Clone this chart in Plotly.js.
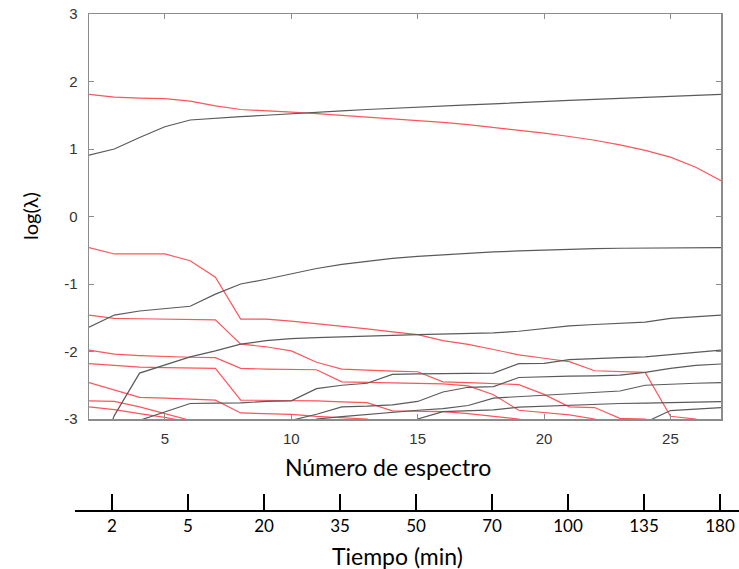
<!DOCTYPE html>
<html>
<head>
<meta charset="utf-8">
<script src="https://cdn.plot.ly/plotly-3.0.1.min.js"></script>
<style>html,body{margin:0;padding:0;background:#fff;}#chart{width:739px;height:569px;}</style>
</head>
<body>
<div id="chart"></div>
<script>
// Spectrum number (x)
const spectrum = [2,3,4,5,6,7,8,9,10,11,12,13,14,15,16,17,18,19,20,21,22,23,24,25,26,27];

// Black series (log lambda)
const blackA = [0.91,1.00,1.17,1.33,1.43,1.46,1.48,1.50,1.525,1.545,1.565,1.585,1.605,1.62,1.64,1.655,1.67,1.69,1.705,1.72,1.735,1.75,1.765,1.78,1.795,1.81];
const blackB = [-1.64,-1.46,-1.40,-1.36,-1.33,-1.15,-1.00,-0.93,-0.85,-0.77,-0.71,-0.66,-0.62,-0.59,-0.565,-0.545,-0.525,-0.51,-0.495,-0.485,-0.475,-0.47,-0.465,-0.46,-0.46,-0.46];
const blackC = [-3.9,-2.95,-2.32,-2.20,-2.08,-1.99,-1.89,-1.84,-1.81,-1.795,-1.78,-1.77,-1.76,-1.75,-1.745,-1.74,-1.725,-1.70,-1.665,-1.62,-1.60,-1.585,-1.565,-1.51,-1.485,-1.46];
const blackD = [null,null,-3.02,-2.89,-2.77,-2.765,-2.76,-2.74,-2.73,-2.55,-2.50,-2.47,-2.34,-2.33,-2.33,-2.33,-2.32,-2.18,-2.175,-2.12,-2.10,-2.09,-2.08,-2.05,-2.015,-1.98];
const blackE = [null,null,null,null,null,null,null,-3.3,-3.02,-2.93,-2.82,-2.81,-2.79,-2.74,-2.60,-2.53,-2.52,-2.385,-2.37,-2.365,-2.36,-2.35,-2.31,-2.25,-2.205,-2.185];
const blackF = [null,null,null,null,null,null,null,null,-3.2,-3.0,-2.965,-2.93,-2.90,-2.87,-2.845,-2.80,-2.69,-2.67,-2.655,-2.635,-2.61,-2.585,-2.50,-2.48,-2.47,-2.46];
const blackG = [null,null,null,null,null,null,null,null,null,null,null,null,-3.3,-3.0,-2.89,-2.875,-2.865,-2.825,-2.81,-2.79,-2.78,-2.77,-2.765,-2.757,-2.75,-2.743];
const blackH = [null,null,null,null,null,null,null,null,null,null,null,null,null,null,null,null,null,null,null,null,null,-3.5,-3.05,-2.875,-2.855,-2.83];

// Red series (log lambda)
const redA = [1.81,1.77,1.755,1.745,1.71,1.64,1.585,1.56,1.545,1.525,1.50,1.48,1.455,1.425,1.395,1.36,1.32,1.28,1.235,1.185,1.13,1.06,0.98,0.88,0.73,0.53];
const redB = [-0.46,-0.555,-0.555,-0.555,-0.655,-0.90,-1.52,-1.52,-1.55,-1.585,-1.62,-1.665,-1.71,-1.75,-1.84,-1.895,-1.97,-2.05,-2.10,-2.15,-2.285,-2.30,-2.31,-2.96,-3.0,-3.2];
const redC = [-1.46,-1.51,-1.515,-1.52,-1.525,-1.53,-1.89,-1.93,-1.99,-2.16,-2.26,-2.28,-2.29,-2.30,-2.45,-2.46,-2.47,-2.49,-2.635,-2.82,-2.83,-2.99,-3.0,-3.2,null,null];
const redD = [-1.98,-2.04,-2.06,-2.075,-2.085,-2.09,-2.25,-2.26,-2.265,-2.27,-2.45,-2.455,-2.46,-2.47,-2.48,-2.51,-2.64,-2.87,-2.90,-2.94,-3.0,-3.2,null,null,null,null];
const redE = [-2.18,-2.21,-2.23,-2.24,-2.245,-2.25,-2.72,-2.72,-2.72,-2.73,-2.745,-2.757,-2.88,-2.885,-2.89,-2.92,-2.96,-3.0,-3.2,null,null,null,null,null,null,null];
const redF = [-2.46,-2.57,-2.68,-2.69,-2.70,-2.72,-2.91,-2.92,-2.93,-2.96,-2.98,-3.0,-3.2,null,null,null,null,null,null,null,null,null,null,null,null,null];
const redG = [-2.73,-2.74,-2.82,-2.92,-3.02,-3.2,null,null,null,null,null,null,null,null,null,null,null,null,null,null,null,null,null,null,null,null];
const redH = [-2.82,-2.86,-2.92,-2.975,-3.05,-3.2,null,null,null,null,null,null,null,null,null,null,null,null,null,null,null,null,null,null,null,null];

// Tick labels
const xTickVals = [5,10,15,20,25];
const xTickText = ['5','10','15','20','25'];
const yTickVals = [-3,-2,-1,0,1,2,3];
const yTickText = ['-3','-2','-1','0','1','2','3'];
const timeTickVals = [3,6,9,12,15,18,21,24,27];
const timeTickText = ['2','5','20','35','50','70','100','135','180'];

const redSeries = [redA, redB, redC, redD, redE, redF, redG, redH];
const blackSeries = [blackA, blackB, blackC, blackD, blackE, blackF, blackG, blackH];

const traces = [];
redSeries.forEach(s => traces.push({x: spectrum, y: s, type:'scatter', mode:'lines', connectgaps:false,
  line:{color:'rgb(255,85,90)', width:1.2}, hoverinfo:'skip'}));
blackSeries.forEach(s => traces.push({x: spectrum, y: s, type:'scatter', mode:'lines', connectgaps:false,
  line:{color:'rgb(90,90,90)', width:1.2}, hoverinfo:'skip'}));
// empty trace so the time axis exists
traces.push({x: [], y: [], xaxis:'x2', yaxis:'y2', type:'scatter', mode:'lines', hoverinfo:'skip'});

const axisGray = '#8c8c8c';
const layout = {
  width: 739, height: 569,
  margin: {l:75, r:0, t:14, b:58, pad:0},
  paper_bgcolor:'white', plot_bgcolor:'white',
  showlegend:false,
  xaxis: {domain:[0.0211,0.9729], range:[2,27], anchor:'y',
    tickvals:xTickVals, ticktext:xTickText, ticks:'inside', ticklen:5, tickwidth:1, tickcolor:axisGray,
    showline:true, linecolor:axisGray, linewidth:1.5, mirror:'ticks', showgrid:false, zeroline:false,
    tickfont:{family:'Liberation Sans, Arial, sans-serif', size:15, color:'#333'}, ticklabelstandoff:5},
  yaxis: {domain:[0.1851,1], range:[-3,3], anchor:'x',
    tickvals:yTickVals, ticktext:yTickText, ticks:'inside', ticklen:5, tickwidth:1, tickcolor:axisGray,
    showline:true, linecolor:axisGray, linewidth:1.5, mirror:'ticks', showgrid:false, zeroline:false,
    tickfont:{family:'Liberation Sans, Arial, sans-serif', size:15, color:'#333'}, ticklabelstandoff:7},
  xaxis2: {domain:[0,1], range:[1.539,27.75], anchor:'free', position:0,
    tickvals:timeTickVals, ticktext:timeTickText, ticks:'inside', ticklen:16, tickwidth:2.5, tickcolor:'black',
    showline:true, linecolor:'black', linewidth:2, showgrid:false, zeroline:false,
    tickfont:{family:'Lato, sans-serif', size:17, color:'black'}},
  yaxis2: {domain:[0,0.05], visible:false, anchor:'x2', range:[0,1]},
  annotations: [
    {text:'Número de espectro', xref:'paper', yref:'paper', x:0.472, y:0.0885, xanchor:'center', yanchor:'middle',
     showarrow:false, font:{family:'Lato, sans-serif', size:23, color:'black'}},
    {text:'Tiempo (min)', xref:'paper', yref:'paper', x:0.485, y:-0.0905, xanchor:'center', yanchor:'middle',
     showarrow:false, font:{family:'Lato, sans-serif', size:23, color:'black'}},
    {text:'log(λ)', xref:'paper', yref:'paper', x:-0.0678, y:0.5936, xanchor:'center', yanchor:'middle', textangle:-90,
     showarrow:false, font:{family:'Lato, sans-serif', size:20, color:'black'}}
  ]
};

Plotly.newPlot('chart', traces, layout, {staticPlot:true, displayModeBar:false});
</script>
</body>
</html>
